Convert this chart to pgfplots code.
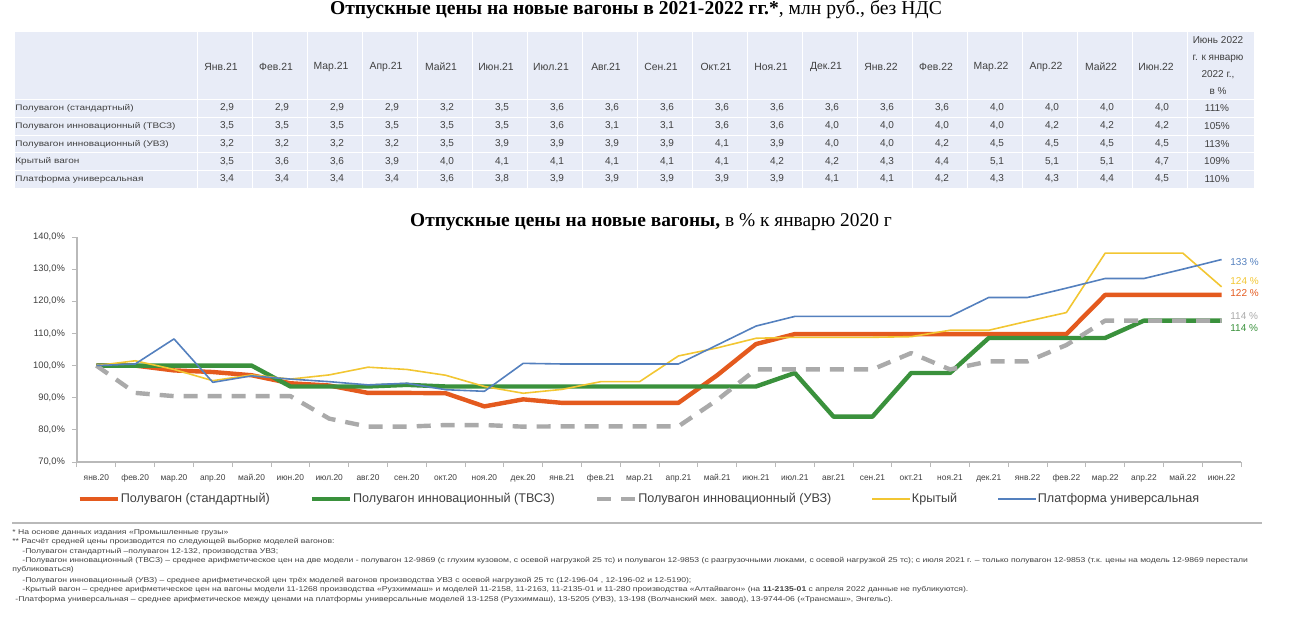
\documentclass[border=0pt]{standalone}
\usepackage{pgfplots}
\pgfplotsset{compat=1.18}
\usepackage{pgfplotstable}
\usepackage{graphicx}
\usepackage{fontspec}
\setmainfont{Liberation Sans}
\newfontfamily\seriffont{Liberation Serif}
\definecolor{corange}{RGB}{228,90,30}
\definecolor{cgreen}{RGB}{58,145,60}
\definecolor{cgrey}{RGB}{170,170,170}
\definecolor{cyellow}{RGB}{242,198,50}
\definecolor{cblue}{RGB}{84,128,190}
\definecolor{tblbg}{RGB}{232,236,247}
\definecolor{txt}{RGB}{64,64,64}
\definecolor{axgrey}{RGB}{185,185,185}
\pgfplotstableread{
x std tvsz uvz kr pl
0 100 100 100 100 100
1 100 100 91.5 101.5 100.5
2 98.5 100 90.5 98.8 108.3
3 98 100 90.5 95.3 94.8
4 97 100 90.5 97.1 96.8
5 94.5 93.5 90.5 95.8 95.8
6 93.8 93.5 83.5 97.1 95
7 91.5 93.5 81 99.5 94
8 91.5 94 81 98.8 94.5
9 91.4 93.5 81.5 97 92.5
10 87.3 93.5 81.5 93.5 92
11 89.5 93.5 81 91.4 100.7
12 88.4 93.5 81.1 92.6 100.5
13 88.4 93.5 81.1 95 100.5
14 88.4 93.5 81.1 95 100.5
15 88.4 93.5 81.1 103 100.5
16 97 93.5 89.3 105.5 106.4
17 106.7 93.5 98.8 108.5 112.3
18 109.8 97.7 98.8 108.8 115.3
19 109.8 84.1 98.8 108.8 115.3
20 109.8 84.1 98.8 108.8 115.3
21 109.8 97.7 103.9 109 115.3
22 109.8 97.7 98.8 111 115.3
23 109.8 108.6 101.3 111 121.2
24 109.8 108.6 101.3 113.8 121.2
25 109.8 108.6 106.4 116.5 124.1
26 122 108.6 114 135 127.1
27 122 114 114 135 127.1
28 122 114 114 135 130
29 122 114 114 124.5 133
}\data
\newcommand{\trow}[3]{%
  \node[anchor=west, font=\fontsize{4}{5}\selectfont, text=txt, inner sep=0pt] at (15,#1) {\scalebox{1.25}[1]{#2}};
  \foreach \v [count=\i from 0] in {#3} {\node[font=\fontsize{5}{6}\selectfont, text=txt, inner sep=0pt] at ({227+55*\i},#1) {\v};}%
}
\newcommand{\fn}[3]{\node[anchor=west, inner sep=0pt, font=\fontsize{3.5}{4}\selectfont, text=txt] at (#1,#2) {\scalebox{1.23}[1]{#3}};}
\begin{document}
\begin{tikzpicture}
\begin{scope}[x=0.5pt,y=-0.5pt]
\path[use as bounding box] (0,0) rectangle (1291,629);
\coordinate (axsw) at (77,462);
\node[font=\seriffont\fontsize{9.8}{10}\selectfont, inner sep=0pt] at (636,10) {\textbf{Отпускные цены на новые вагоны в 2021-2022 гг.*}, млн руб., без НДС};
\fill[tblbg] (15,32) rectangle (1254,188);
\foreach \i in {0,...,18} \draw[white, line width=0.5pt] ({197+55*\i},32) -- ({197+55*\i},188);
\foreach \yy in {99,117,135,152.5,170} \draw[white, line width=0.5pt] (15,\yy) -- (1254,\yy);
\foreach \m [count=\i from 0] in {Янв.21,Фев.21,Мар.21,Апр.21,Май21,Июн.21,Июл.21,Авг.21,Сен.21,Окт.21,Ноя.21,Дек.21,Янв.22,Фев.22,Мар.22,Апр.22,Май22,Июн.22}
  {\node[font=\fontsize{5.2}{6}\selectfont, text=txt, inner sep=0pt] at ({221+55*\i},67) {\m};}
\node[font=\fontsize{5}{8.5}\selectfont, text=txt, align=center, inner sep=0pt] at (1218,66) {Июнь 2022\\г. к январю\\2022 г.,\\в \%};
\trow{108}{Полувагон (стандартный)}{{2,9},{2,9},{2,9},{2,9},{3,2},{3,5},{3,6},{3,6},{3,6},{3,6},{3,6},{3,6},{3,6},{3,6},{4,0},{4,0},{4,0},{4,0},111\%}
\trow{126}{Полувагон инновационный (ТВСЗ)}{{3,5},{3,5},{3,5},{3,5},{3,5},{3,5},{3,6},{3,1},{3,1},{3,6},{3,6},{4,0},{4,0},{4,0},{4,0},{4,2},{4,2},{4,2},105\%}
\trow{144}{Полувагон инновационный (УВЗ)}{{3,2},{3,2},{3,2},{3,2},{3,5},{3,9},{3,9},{3,9},{3,9},{4,1},{3,9},{4,0},{4,0},{4,2},{4,5},{4,5},{4,5},{4,5},113\%}
\trow{161.5}{Крытый вагон}{{3,5},{3,6},{3,6},{3,9},{4,0},{4,1},{4,1},{4,1},{4,1},{4,1},{4,2},{4,2},{4,3},{4,4},{5,1},{5,1},{5,1},{4,7},109\%}
\trow{179}{Платформа универсальная}{{3,4},{3,4},{3,4},{3,4},{3,6},{3,8},{3,9},{3,9},{3,9},{3,9},{3,9},{4,1},{4,1},{4,2},{4,3},{4,3},{4,4},{4,5},110\%}
\node[font=\seriffont\fontsize{9.7}{10}\selectfont, inner sep=0pt] at (651,222) {\textbf{Отпускные цены на новые вагоны,} в \% к январю 2020 г};
\draw[axgrey, line width=1pt] (12,523) -- (1262,523);
\fn{12}{533}{* На основе данных издания «Промышленные грузы»}
\fn{12}{542}{** Расчёт средней цены производится по следующей выборке моделей вагонов:}
\fn{22}{551.5}{-Полувагон стандартный –полувагон 12-132, производства УВЗ;}
\fn{22}{561}{-Полувагон инновационный (ТВСЗ) – среднее арифметическое цен на две модели - полувагон 12-9869 (с глухим кузовом, с осевой нагрузкой 25 тс) и полувагон 12-9853 (с разгрузочными люками, с осевой нагрузкой 25 тс); с июля 2021 г. – только полувагон 12-9853 (т.к. цены на модель 12-9869 перестали}
\fn{12}{570}{публиковаться)}
\fn{22}{580.5}{-Полувагон инновационный (УВЗ) – среднее арифметической цен трёх моделей вагонов производства УВЗ с осевой нагрузкой 25 тс (12-196-04 , 12-196-02 и 12-5190);}
\fn{22}{590}{-Крытый вагон – среднее арифметическое цен на вагоны модели 11-1268 производства «Рузхиммаш» и моделей 11-2158, 11-2163, 11-2135-01 и 11-280 производства «Алтайвагон» (на \textbf{11-2135-01} с апреля 2022 данные не публикуются).}
\fn{15}{599.5}{-Платформа универсальная – среднее арифметическое между ценами на платформы универсальные моделей 13-1258 (Рузхиммаш), 13-5205 (УВЗ), 13-198 (Волчанский мех. завод), 13-9744-06 («Трансмаш», Энгельс).}
\end{scope}
\begin{axis}[
  at={(axsw)}, anchor=south west,
  scale only axis, width=582pt, height=112.5pt,
  xmin=-0.5, xmax=29.5, ymin=70, ymax=140,
  axis x line*=bottom, axis y line*=left,
  axis line style={draw=axgrey, line width=0.6pt},
  xtick={-0.5,0.5,...,29.5},
  x tick label as interval,
  xticklabels={янв.20,фев.20,мар.20,апр.20,май.20,июн.20,июл.20,авг.20,сен.20,окт.20,ноя.20,дек.20,янв.21,фев.21,мар.21,апр.21,май.21,июн.21,июл.21,авг.21,сен.21,окт.21,ноя.21,дек.21,янв.22,фев.22,мар.22,апр.22,май.22,июн.22},
  ytick={70,80,...,140},
  yticklabels={{70,0\%},{80,0\%},{90,0\%},{100,0\%},{110,0\%},{120,0\%},{130,0\%},{140,0\%}},
  tick align=outside,
  major tick length=2.5pt,
  tick style={draw=axgrey, line width=0.5pt},
  x tick label style={font=\fontsize{4.2}{5}\selectfont, text=txt, text height=3.2pt, text depth=1pt},
  y tick label style={font=\fontsize{4.7}{5}\selectfont, text=txt},
  no markers,
  line join=round,
  legend style={at={(0,0)}, anchor=west, yshift=-18.5pt, draw=none, fill=none, inner sep=0pt,
    font=\fontsize{6.3}{7}\selectfont, text=txt, legend columns=-1,
    /tikz/every even column/.append style={column sep=19.5pt}, nodes={inner sep=0.5pt}},
  legend image code/.code={\draw[#1] (0pt,0pt) -- (19pt,0pt);},
]
\addplot[corange, line width=2.2pt] table[x=x,y=std]{\data};
\addlegendentry{Полувагон (стандартный)}
\addplot[cgreen, line width=2.2pt] table[x=x,y=tvsz]{\data};
\addlegendentry{Полувагон инновационный (ТВСЗ)}
\addplot[cgrey, line width=2.2pt, dash pattern=on 7pt off 5pt] table[x=x,y=uvz]{\data};
\addlegendentry{Полувагон инновационный (УВЗ)}
\addplot[cyellow, line width=0.8pt] table[x=x,y=kr]{\data};
\addlegendentry{Крытый}
\addplot[cblue, line width=0.8pt] table[x=x,y=pl]{\data};
\addlegendentry{Платформа универсальная}
\end{axis}
\begin{scope}[x=0.5pt,y=-0.5pt]
\node[anchor=west, inner sep=0pt, font=\fontsize{5}{6}\selectfont, text=cblue] at (1230,262) {133 \%};
\node[anchor=west, inner sep=0pt, font=\fontsize{5}{6}\selectfont, text=cyellow] at (1230,281) {124 \%};
\node[anchor=west, inner sep=0pt, font=\fontsize{5}{6}\selectfont, text=corange] at (1230,293) {122 \%};
\node[anchor=west, inner sep=0pt, font=\fontsize{5}{6}\selectfont, text=cgrey] at (1230,316) {114 \%};
\node[anchor=west, inner sep=0pt, font=\fontsize{5}{6}\selectfont, text=cgreen] at (1230,328) {114 \%};
\end{scope}
\end{tikzpicture}
\end{document}
